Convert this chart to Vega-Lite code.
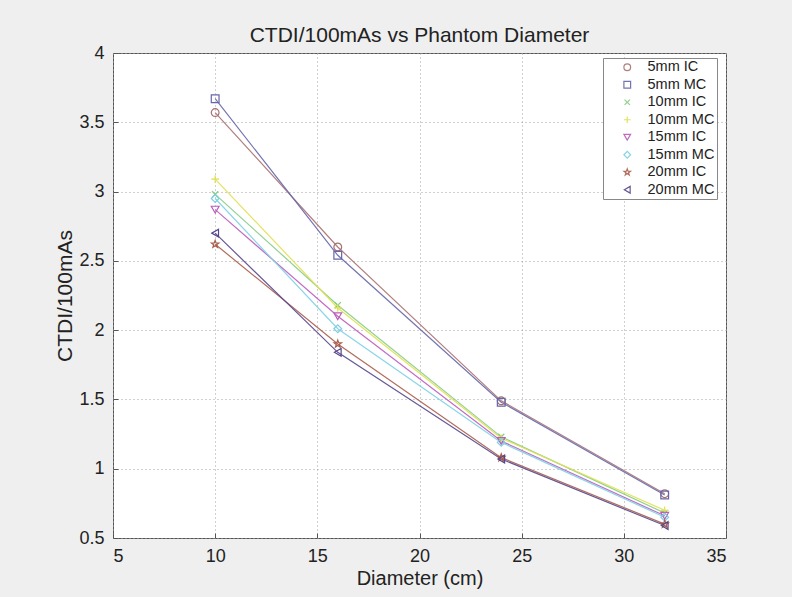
{
  "$schema": "https://vega.github.io/schema/vega-lite/v6.json",
  "width": 613,
  "height": 485,
  "autosize": {"type": "none"},
  "padding": {"left": 113, "top": 53, "right": 66, "bottom": 59},
  "background": "#efefef",
  "title": {
    "text": "CTDI/100mAs vs Phantom Diameter",
    "fontSize": 21,
    "fontWeight": "normal",
    "font": "Liberation Sans",
    "color": "#222222",
    "offset": -2,
    "anchor": "middle"
  },
  "data": {
    "values": [
      {"s": "5mm IC", "d": 10, "v": 3.57},
      {"s": "5mm IC", "d": 16, "v": 2.60},
      {"s": "5mm IC", "d": 24, "v": 1.49},
      {"s": "5mm IC", "d": 32, "v": 0.82},
      {"s": "5mm MC", "d": 10, "v": 3.67},
      {"s": "5mm MC", "d": 16, "v": 2.54},
      {"s": "5mm MC", "d": 24, "v": 1.48},
      {"s": "5mm MC", "d": 32, "v": 0.81},
      {"s": "10mm IC", "d": 10, "v": 2.98},
      {"s": "10mm IC", "d": 16, "v": 2.18},
      {"s": "10mm IC", "d": 24, "v": 1.23},
      {"s": "10mm IC", "d": 32, "v": 0.68},
      {"s": "10mm MC", "d": 10, "v": 3.09},
      {"s": "10mm MC", "d": 16, "v": 2.16},
      {"s": "10mm MC", "d": 24, "v": 1.22},
      {"s": "10mm MC", "d": 32, "v": 0.70},
      {"s": "15mm IC", "d": 10, "v": 2.87},
      {"s": "15mm IC", "d": 16, "v": 2.10},
      {"s": "15mm IC", "d": 24, "v": 1.20},
      {"s": "15mm IC", "d": 32, "v": 0.66},
      {"s": "15mm MC", "d": 10, "v": 2.95},
      {"s": "15mm MC", "d": 16, "v": 2.01},
      {"s": "15mm MC", "d": 24, "v": 1.19},
      {"s": "15mm MC", "d": 32, "v": 0.65},
      {"s": "20mm IC", "d": 10, "v": 2.62},
      {"s": "20mm IC", "d": 16, "v": 1.90},
      {"s": "20mm IC", "d": 24, "v": 1.08},
      {"s": "20mm IC", "d": 32, "v": 0.60},
      {"s": "20mm MC", "d": 10, "v": 2.70},
      {"s": "20mm MC", "d": 16, "v": 1.84},
      {"s": "20mm MC", "d": 24, "v": 1.07},
      {"s": "20mm MC", "d": 32, "v": 0.59}
    ]
  },
  "encoding": {
    "x": {
      "field": "d", "type": "quantitative",
      "scale": {"domain": [5, 35], "nice": false, "zero": false},
      "axis": {"values": [5, 10, 15, 20, 25, 30, 35], "format": "~g", "title": "Diameter (cm)"}
    },
    "y": {
      "field": "v", "type": "quantitative",
      "scale": {"domain": [0.5, 4], "nice": false, "zero": false},
      "axis": {"values": [0.5, 1, 1.5, 2, 2.5, 3, 3.5, 4], "format": "~g", "title": "CTDI/100mAs", "titleFontSize": 21}
    },
    "color": {
      "field": "s", "type": "nominal",
      "sort": ["5mm IC", "5mm MC", "10mm IC", "10mm MC", "15mm IC", "15mm MC", "20mm IC", "20mm MC"],
      "scale": {
        "domain": ["5mm IC", "5mm MC", "10mm IC", "10mm MC", "15mm IC", "15mm MC", "20mm IC", "20mm MC"],
        "range": ["#a87070", "#6666a8", "#84cc84", "#e0e050", "#bc5cbc", "#7cd0e4", "#a85c4a", "#56468c"]
      },
      "legend": {"title": null, "labelExpr": "datum.label + '\u00a0\u00a0\u00a0'"}
    }
  },
  "layer": [
    {
      "mark": {"type": "line", "strokeWidth": 1.2, "opacity": 0.9}
    },
    {
      "mark": {"type": "point", "filled": false, "size": 60, "strokeWidth": 1.2, "opacity": 1},
      "encoding": {
        "shape": {
          "field": "s", "type": "nominal",
          "scale": {
            "domain": ["5mm IC", "5mm MC", "10mm IC", "10mm MC", "15mm IC", "15mm MC", "20mm IC", "20mm MC"],
            "range": [
              "circle",
              "square",
              "M-0.8,-0.8L0.8,0.8M-0.8,0.8L0.8,-0.8",
              "M-1,0L1,0M0,-1L0,1",
              "triangle-down",
              "diamond",
              "M0,-1L0.235,-0.324L0.951,-0.309L0.38,0.124L0.588,0.809L0,0.4L-0.588,0.809L-0.38,0.124L-0.951,-0.309L-0.235,-0.324Z",
              "triangle-left"
            ]
          },
          "legend": {"title": null, "labelExpr": "datum.label + '\u00a0\u00a0\u00a0'"}
        }
      }
    }
  ],
  "config": {
    "view": {"fill": "white", "stroke": "#555555", "strokeWidth": 1},
    "axis": {
      "labelFont": "Liberation Sans",
      "titleFont": "Liberation Sans",
      "labelFontSize": 18,
      "titleFontSize": 20,
      "titleFontWeight": "normal",
      "labelColor": "#222222",
      "titleColor": "#222222",
      "domain": false,
      "grid": true,
      "gridColor": "#a0a0a0",
      "gridDash": [1, 3],
      "gridWidth": 1,
      "tickColor": "#555555",
      "tickSize": -5
    },
    "axisX": {"titlePadding": 3, "labelPadding": 14},
    "axisY": {"titlePadding": 3, "labelPadding": 14},
    "legend": {
      "orient": "none",
      "legendX": 490,
      "legendY": 5,
      "fillColor": "white",
      "strokeColor": "#888888",
      "padding": 2,
      "labelFont": "Liberation Sans",
      "labelFontSize": 14.5,
      "labelColor": "#222222",
      "symbolSize": 45,
      "symbolStrokeWidth": 1.2,
      "rowPadding": 2.5,
      "labelOffset": 13,
      "symbolOffset": 15
    }
  }
}
